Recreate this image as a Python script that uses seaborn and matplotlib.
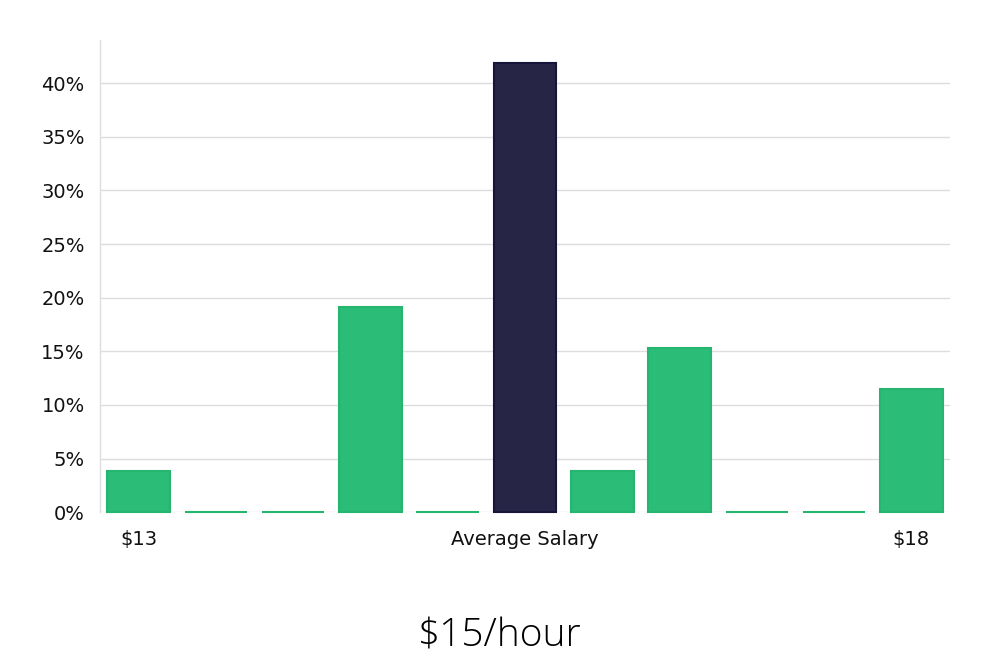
import pandas as pd
import seaborn as sns
import matplotlib.pyplot as plt
from matplotlib.ticker import PercentFormatter

# share of salaries per pay bin ($13 .. $18)
bins = ['b0', 'b1', 'b2', 'b3', 'b4', 'b5', 'b6', 'b7', 'b8', 'b9', 'b10']
shares = [3.8, 0, 0, 19.1, 0, 41.9, 3.8, 15.3, 0, 0, 11.5]
avg_bin = 'b5'
tick_pos = [0, 5, 10]
tick_labels = ['$13', 'Average Salary', '$18']
headline = '$15/hour'

green = '#2bbd77'
green_edge = '#25b56f'
navy = '#272546'
navy_edge = '#17153a'

df = pd.DataFrame({'bin': bins, 'share': shares})
palette = {b: (navy if b == avg_bin else green) for b in bins}

sns.set_style('white')
fig = plt.figure(figsize=(10, 6.6), dpi=100)
ax = fig.add_axes([0.1, 0.224, 0.85, 0.715])

sns.barplot(data=df, x='bin', y='share', hue='bin', palette=palette,
            legend=False, width=0.81, saturation=1, ax=ax)

for patch in ax.patches:
    is_avg = abs(patch.get_x() + patch.get_width() / 2 - bins.index(avg_bin)) < 0.1
    patch.set_edgecolor(navy_edge if is_avg else green_edge)
    patch.set_linewidth(1.5)
    patch.set_clip_on(False)
    patch.set_zorder(3)

ax.set_xlim(-0.5, len(bins) - 0.5)
ax.set_ylim(0, 44)
ax.yaxis.set_major_locator(plt.MultipleLocator(5))
ax.yaxis.set_major_formatter(PercentFormatter(decimals=0))
ax.grid(axis='y', color='#dddddd', linewidth=1)
ax.set_axisbelow(True)

ax.set_xticks(tick_pos)
ax.set_xticklabels(tick_labels)
ax.set_xlabel('')
ax.set_ylabel('')
ax.tick_params(axis='x', length=0, pad=13, labelsize=14, colors='#111111')
ax.tick_params(axis='y', length=5, color='#cccccc', width=1, pad=6,
               labelsize=14, labelcolor='#111111')

for side in ['top', 'right', 'bottom']:
    ax.spines[side].set_visible(False)
ax.spines['left'].set_color('#dddddd')
ax.spines['left'].set_linewidth(1)

fig.text(0.5, 0.036, headline, ha='center', va='center', fontsize=28,
         family=['Open Sans', 'DejaVu Sans'], fontweight='light', color='#000000')

fig.savefig('out.png', dpi=100)
